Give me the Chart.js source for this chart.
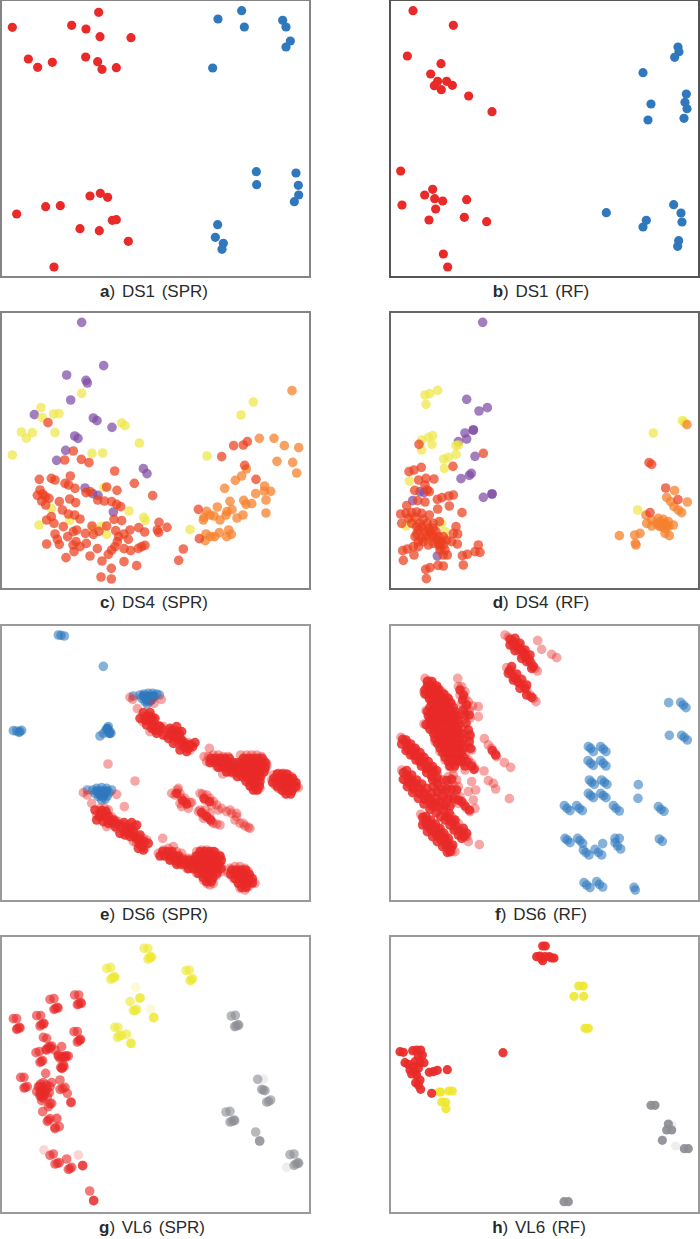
<!DOCTYPE html>
<html>
<head>
<meta charset="utf-8">
<title>Scatter panels</title>
<script src="https://cdn.jsdelivr.net/npm/chart.js@4/dist/chart.umd.min.js"></script>
<style>
    html, body { margin: 0; padding: 0; background: #fff; }
    body { position: relative; width: 700px; height: 1239px; overflow: hidden; }
    canvas { position: absolute; border-style: solid; border-width: 2px; }
    .caption {
        position: absolute; width: 320px; text-align: center; color: #2a2a2a;
        font-family: "Liberation Sans", Arial, sans-serif; font-size: 17px; line-height: 20px; word-spacing: 2px;
    }
</style>
</head>
<body>
<script>
// Values, in units of the panel's own window
const a_red = [[296,37],[37,82],[215,76],[258,87],[300,110],[393,113],[85,177],[113,202],[157,187],[257,171],[293,185],[306,208],[349,203],[270,588],[301,580],[323,592],[137,620],[181,617],[50,642],[337,661],[349,659],[240,686],[298,692],[385,724],[162,801]];
const a_blue = [[725,32],[654,57],[733,81],[848,61],[858,81],[871,123],[858,141],[638,204],[769,515],[770,554],[888,519],[895,556],[896,585],[883,605],[653,674],[646,712],[670,730],[666,748]];

const b_red = [[189,32],[310,76],[172,168],[273,191],[242,222],[263,244],[290,244],[253,257],[307,256],[274,269],[356,288],[426,335],[152,513],[248,568],[224,585],[254,596],[278,603],[350,599],[156,615],[257,627],[237,660],[343,652],[410,665],[280,762],[293,801]];
const b_blue = [[984,141],[987,155],[974,172],[879,218],[1009,282],[1005,307],[903,312],[1011,326],[1002,355],[894,360],[971,614],[769,638],[993,639],[996,666],[889,661],[879,681],[986,722],[983,739]];

const c_red = [[144,338],[220,423],[194,450],[244,448],[267,458],[344,483],[403,520],[118,508],[154,505],[165,510],[211,498],[195,520],[206,525],[225,535],[320,531],[351,541],[458,557],[120,540],[112,556],[128,552],[136,560],[147,565],[125,573],[137,585],[178,575],[209,567],[227,578],[258,548],[270,545],[293,570],[313,573],[335,575],[350,583],[362,590],[187,600],[205,612],[224,615],[240,627],[154,620],[140,630],[162,640],[190,650],[230,660],[203,680],[220,665],[165,672],[172,688],[140,702],[178,703],[228,695],[219,705],[222,725],[240,710],[259,700],[198,743],[270,738],[292,716],[256,670],[280,673],[276,648],[297,664],[320,648],[342,628],[365,632],[347,662],[372,672],[390,660],[416,653],[434,666],[477,637],[472,660],[476,667],[501,652],[356,680],[385,688],[352,695],[345,710],[335,720],[325,733],[372,716],[392,722],[415,715],[425,710],[435,706],[306,753],[372,755],[410,767],[334,775],[303,801],[334,807],[550,717],[536,751],[598,686],[595,598],[665,440],[701,407],[730,405],[742,395],[734,466],[768,508]];
const c_orange = [[876,242],[778,385],[822,385],[853,407],[896,413],[831,454],[878,457],[890,489],[739,477],[725,498],[706,511],[674,535],[794,528],[793,543],[812,544],[767,551],[690,574],[731,571],[755,581],[738,583],[798,570],[798,609],[652,591],[696,599],[681,605],[678,615],[729,615],[711,624],[620,604],[612,622],[630,615],[642,618],[660,630],[610,630],[618,672],[632,680],[616,692],[644,680],[658,668],[686,660],[694,673],[680,680]];
const c_yellow = [[245,250],[123,293],[127,323],[161,312],[177,311],[64,366],[97,368],[79,384],[165,368],[37,435],[365,339],[375,347],[418,399],[276,430],[308,429],[760,276],[723,315],[621,438],[570,659],[387,603],[431,622],[436,631],[154,596],[209,631],[117,645],[280,657],[305,648],[320,673],[312,533]];
const c_purple = [[245,37],[311,167],[200,195],[258,211],[262,219],[212,270],[103,314],[280,324],[291,332],[336,352],[224,378],[234,385],[197,421],[170,451],[430,476],[441,491],[255,534],[278,551],[294,556],[340,606]];

const d_red = [[207,403],[400,430],[214,472],[309,469],[177,485],[192,480],[206,510],[228,505],[252,507],[225,525],[232,540],[194,541],[238,545],[262,568],[276,563],[296,558],[310,555],[203,572],[225,576],[170,587],[263,597],[298,588],[336,608],[152,612],[168,610],[185,608],[200,606],[215,610],[238,615],[155,640],[185,640],[210,640],[232,640],[250,640],[268,635],[205,660],[225,665],[240,665],[258,665],[318,650],[310,670],[323,672],[195,680],[215,685],[240,680],[260,690],[275,695],[290,690],[305,695],[322,702],[190,710],[205,710],[235,705],[270,710],[158,722],[172,717],[192,735],[160,751],[280,735],[292,735],[270,720],[385,705],[375,725],[390,727],[352,733],[337,737],[340,765],[227,778],[240,773],[264,766],[280,768],[229,806],[897,458],[905,463],[900,608],[947,534],[984,569],[175,625],[195,622],[220,628],[200,650],[215,652],[235,655],[250,655],[200,672],[228,678],[250,680],[265,680],[280,680],[250,700],[265,702],[280,705],[285,720],[205,695],[220,695]];
const d_orange = [[1011,344],[974,542],[950,562],[962,575],[1012,576],[972,590],[985,600],[995,608],[888,615],[890,640],[905,630],[905,648],[925,625],[940,628],[955,635],[970,645],[930,650],[945,655],[945,670],[958,677],[808,677],[854,675],[870,670],[856,700],[858,705],[935,640],[920,640],[950,645],[930,635],[945,640],[938,650],[955,650],[925,645]];
const d_yellow = [[263,241],[239,251],[225,255],[228,283],[215,390],[235,382],[248,377],[246,403],[215,420],[318,407],[325,405],[318,433],[295,442],[281,447],[283,475],[178,513],[168,648],[185,632],[275,640],[285,665],[240,680],[997,332],[1003,337],[910,369],[863,600]];
const d_purple = [[398,37],[350,268],[412,293],[387,303],[345,369],[370,360],[370,360],[350,387],[325,395],[375,439],[364,490],[358,496],[333,506],[426,552],[426,552],[400,562],[188,572],[210,545],[222,548],[262,738]];

const e_red = [[390,232],[398,238],[412,266],[484,238],[462,250],[430,290],[445,285],[455,290],[440,300],[428,305],[450,305],[462,315],[475,318],[490,320],[470,330],[450,335],[480,335],[510,335],[525,330],[535,335],[515,345],[530,350],[500,348],[540,355],[525,362],[550,365],[565,368],[575,372],[545,380],[560,385],[570,390],[535,372],
    [628,385],[612,410],[625,410],[640,405],[655,405],[670,410],[685,410],[620,425],[635,425],[650,425],[665,425],[680,425],[695,430],[650,440],[665,440],[680,440],[695,445],[710,445],[668,462],[685,455],[700,460],[715,460],[722,405],[740,405],[755,405],[770,405],[785,410],[730,420],[745,420],[760,420],[775,420],[790,420],[800,430],[725,435],[740,435],[755,435],[770,435],[785,435],[800,440],[720,450],[735,450],[750,450],[765,450],[780,450],[795,450],[735,465],[750,465],[765,465],[780,465],[745,480],[760,480],[775,480],[752,495],[768,510],[780,505],
    [820,465],[835,460],[850,460],[865,465],[875,470],[815,480],[830,480],[845,480],[860,480],[875,480],[885,490],[825,495],[840,495],[855,495],[870,495],[885,500],[895,503],[845,510],[860,510],[875,515],[835,505],
    [324,432],[405,483],[250,518],[262,525],[350,523],[373,560],[275,550],[488,655],
    [300,565],[315,565],[325,570],[290,585],[305,585],[320,585],[335,590],[345,600],[355,605],[335,610],[320,620],[350,625],[375,615],[390,615],[405,620],[370,630],[385,635],[400,640],[415,650],[430,655],[440,660],[410,668],[425,672],[435,685],[400,665],
    [475,700],[490,690],[505,685],[520,680],[530,695],[545,700],[490,705],[505,705],[520,705],[535,715],[550,715],[565,715],[510,720],[525,725],[540,730],[555,730],[570,730],[585,730],[590,695],[605,690],[620,690],[635,695],[650,700],[660,710],[585,710],[600,705],[615,705],[630,710],[645,715],[660,725],[600,720],[615,720],[630,725],[645,730],[665,740],[560,745],[575,745],[590,745],[605,740],[620,740],[635,745],[650,745],[665,755],[590,760],[605,760],[620,760],[635,760],[650,765],[610,780],[625,780],[640,775],[630,795],[620,790],[640,790],
    [690,745],[705,740],[720,740],[735,745],[745,755],[685,760],[700,755],[715,755],[730,760],[745,770],[755,785],[765,790],[700,775],[715,775],[730,775],[745,785],[715,790],[730,795],[745,800],[720,805],[735,810],
    [532,510],[525,525],[540,520],[545,535],[555,545],[570,548],[545,560],[565,565],[608,522],[620,525],[630,535],[640,545],[650,555],[665,565],[680,575],[695,580],[710,580],[600,570],[615,570],[630,580],[610,585],[625,595],[635,605],[650,612],[705,600],[720,610],[735,618],[745,622],
    [515,520],[535,505],[555,535],[575,548],[540,550],[600,520],[615,540],[635,555],[655,570],[595,575],[610,595],[640,610],[660,615],[690,570],[710,590],[730,610],[750,625]];
const e_redCore = [[440,290],[452,292],[435,300],[447,302],[458,300],[460,318],[472,322],[485,325],[478,318],[465,330],[515,332],[528,335],[538,342],[522,345],[510,342],[532,355],[520,350],[545,368],[558,372],[570,375],[552,380],[565,385],[545,360],
    [420,295],[430,278],[450,278],[465,295],[440,315],[455,325],[470,340],[490,345],[510,325],[530,320],[545,335],[505,355],[520,370],[540,390],[560,395],[578,380],[585,368],
    [632,415],[646,415],[660,415],[674,415],[688,415],[730,415],[744,415],[758,415],[772,415],[786,415],
    [630,428],[644,428],[658,428],[672,428],[686,428],[700,428],[714,428],[728,428],[742,428],[756,428],[770,428],[784,428],[796,428],
    [655,442],[669,442],[683,442],[697,442],[711,442],[725,442],[739,442],[753,442],[767,442],[781,442],[795,442],
    [680,456],[694,456],[708,456],[722,456],[736,456],[750,456],[764,456],[778,456],[792,456],
    [712,470],[726,470],[740,470],[754,470],[768,470],[782,470],[738,484],[752,484],[766,484],[780,484],[750,498],[764,498],[778,498],[760,510],[772,510],
    [832,462],[846,462],[860,462],[822,475],[836,475],[850,475],[864,475],[878,475],[818,488],[832,488],[846,488],[860,488],[874,488],[888,488],[832,500],[846,500],[860,500],[874,500],[888,500],[848,512],[862,512],[876,512],[858,522],[872,522],
    [305,572],[318,575],[298,590],[312,590],[326,590],[340,600],[350,610],[330,602],[380,622],[393,625],[375,635],[388,640],[400,632],[420,660],[432,665],[418,672],[428,680],[408,655],
    [285,570],[300,580],[290,600],[310,605],[325,610],[345,620],[360,640],[375,645],[390,650],[405,650],[420,645],[445,670],[415,685],[430,690],[360,615],[372,608],[395,608],[410,615],
    [488,695],[502,695],[516,695],[600,695],[614,695],[628,695],[642,695],[480,708],[494,708],[508,708],[522,708],[536,708],[590,708],[604,708],[618,708],[632,708],[646,708],[660,708],
    [510,720],[524,720],[538,720],[552,720],[566,720],[580,720],[594,720],[608,720],[622,720],[636,720],[650,720],[664,720],
    [530,733],[544,733],[558,733],[572,733],[586,733],[600,733],[614,733],[628,733],[642,733],[656,733],
    [565,746],[579,746],[593,746],[607,746],[621,746],[635,746],[649,746],[663,746],[595,760],[609,760],[623,760],[637,760],[651,760],[610,773],[624,773],[638,773],[620,785],[634,785],
    [695,750],[709,750],[723,750],[737,750],[692,763],[706,763],[720,763],[734,763],[748,763],[705,776],[719,776],[733,776],[747,776],[757,776],[715,789],[729,789],[743,789],[757,789],[725,802],[739,802],
    [530,520],[548,542],[560,552],[612,535],[628,545],[605,578],[620,590],[632,600]];
const e_blue = [[175,45],[183,46],[193,48],[310,139],[400,228],[420,225],[432,222],[445,220],[458,220],[470,222],[478,225],[425,235],[438,235],[450,235],[462,232],[435,245],[448,245],[442,252],[455,240],[40,332],[50,333],[60,335],[65,331],[57,337],[325,320],[322,328],[330,335],[310,340],[300,348],[333,340],[318,330],[262,510],[278,510],[290,505],[305,503],[320,505],[335,510],[285,520],[300,520],[315,520],[328,518],[295,530],[310,530],[322,528],[305,540],[315,538]];
const e_blueCore = [[430,228],[445,228],[460,228],[440,240],[452,240],[290,513],[305,513],[320,513],[300,525],[312,525],[322,325],[328,340]];

const f_red = [[465,45],[475,52],[485,60],[495,68],[505,75],[515,85],[490,80],[505,92],[520,100],[530,105],[515,105],[535,115],[545,130],[555,145],[562,153],[563,62],[575,88],[605,103],[620,113],
    [470,143],[482,150],[490,165],[500,180],[510,190],[520,195],[530,210],[540,225],[550,235],[558,245],
    [225,175],[235,182],[245,190],[255,200],[265,205],[275,215],[285,225],[295,235],[305,250],[222,215],[232,225],[245,225],[258,225],[270,235],[282,245],[240,240],[252,250],[265,255],[280,262],[292,270],[305,275],[315,285],[228,272],[240,285],[255,285],[270,290],[285,295],[300,295],[222,312],[235,320],[250,315],[265,315],[280,320],[295,315],[310,315],[320,325],[330,330],[250,340],[265,345],[280,345],[295,345],[310,345],[325,350],[255,365],[270,370],[285,370],[300,370],[315,370],[330,375],[270,395],[285,395],[300,395],[315,395],[330,400],[345,405],[285,420],[300,420],[315,420],[330,425],[298,440],[310,445],[340,425],[355,420],
    [323,175],[325,200],[335,200],[345,215],[330,225],[345,235],[355,245],[335,250],[345,265],[358,270],[330,285],[345,295],[360,295],[340,320],[350,340],[360,350],[345,360],[355,380],[365,390],[345,385],
    [368,258],[385,260],[385,290],[403,356],[415,375],[425,385],[435,400],[440,410],[463,428],[482,442],[402,453],[415,482],[430,490],[437,507],[478,536],[365,485],[355,515],[377,510],[370,540],[375,565],[355,665],[388,674],[375,445],[365,430],[345,450],
    [153,352],[165,365],[178,378],[190,385],[200,395],[215,410],[225,425],[240,440],[250,450],[262,465],[275,480],[170,380],[185,395],[200,410],[215,425],[230,445],[245,465],
    [155,450],[170,465],[185,480],[195,490],[210,505],[225,520],[240,535],[255,550],[165,480],[180,495],[195,510],[215,525],[235,545],[250,560],[265,565],
    [280,480],[295,470],[310,465],[320,480],[265,495],[280,500],[295,495],[310,495],[325,500],[270,520],[285,520],[300,525],[315,525],[330,530],[275,550],[290,545],[305,550],[340,550],[350,565],[360,575],[325,550],
    [275,560],[285,580],[295,600],[310,600],[325,610],[315,625],[335,630],[345,640],[350,650],[305,590],
    [212,583],[225,595],[235,605],[250,615],[265,625],[275,640],[285,650],[295,665],[305,680],[315,695],[220,605],[235,620],[250,635],[265,650],[280,665],[295,685],[305,695]];
const f_redCore = [[232,185],[246,185],[232,198],[246,198],[260,198],[225,210],[239,210],[253,210],[267,210],[225,222],[239,222],[253,222],[267,222],[281,222],
    [238,235],[252,235],[266,235],[280,235],[294,235],[245,248],[259,248],[273,248],[287,248],[301,248],[240,262],[254,262],[268,262],[282,262],[296,262],[310,262],
    [232,275],[246,275],[260,275],[274,275],[288,275],[302,275],[316,275],[235,288],[249,288],[263,288],[277,288],[291,288],[305,288],[319,288],
    [240,300],[254,300],[268,300],[282,300],[296,300],[310,300],[324,300],[228,314],[242,314],[256,314],[270,314],[284,314],[298,314],[312,314],[326,314],
    [240,328],[254,328],[268,328],[282,328],[296,328],[310,328],[324,328],[252,342],[266,342],[280,342],[294,342],[308,342],[322,342],[336,342],
    [255,356],[269,356],[283,356],[297,356],[311,356],[325,356],[339,356],[262,370],[276,370],[290,370],[304,370],[318,370],[332,370],
    [270,384],[284,384],[298,384],[312,384],[326,384],[340,384],[278,398],[292,398],[306,398],[320,398],[334,398],[285,412],[299,412],[313,412],[327,412],[341,412],
    [295,425],[309,425],[323,425],[337,425],[351,425],[300,438],[314,438],[345,438],[365,438],
    [330,210],[340,225],[338,240],[350,255],[340,270],[345,285],[358,285],[348,310],[355,330],[360,345],[358,365],[362,385],
    [480,58],[490,70],[500,78],[510,88],[520,98],[528,112],[540,125],[550,140],[478,152],[492,172],[505,188],[525,205],[545,232],[427,392],[437,405],[372,448],
    [495,55],[510,70],[525,90],[540,105],[480,75],[495,92],[515,115],[530,125],[545,145],[485,140],[500,162],[515,178],[530,195],[475,160],[490,180],[510,205],[530,225],
    [158,358],[170,372],[183,385],[195,398],[208,412],[222,428],[235,445],[250,458],[262,475],[175,388],[192,405],[210,425],[228,445],[245,470],
    [168,360],[182,372],[196,385],[210,398],[222,412],[235,425],[248,440],[260,452],[155,372],[168,392],[182,405],[198,420],[214,438],[230,458],[248,480],[262,490],
    [160,458],[175,472],[190,488],[205,502],[220,518],[235,532],[250,548],[175,488],[190,505],[208,520],[225,538],[245,555],[262,558],
    [170,452],[185,465],[200,480],[215,492],[230,505],[245,520],[258,535],[270,545],[160,478],[172,500],[188,518],[205,535],[222,552],[240,568],[258,578],[272,590],[250,500],[262,515],
    [290,482],[305,478],[275,508],[290,508],[305,508],[320,510],[280,530],[295,535],[310,535],[325,540],[285,555],[300,558],[345,558],[358,570],[335,545],
    [290,590],[305,605],[318,618],[330,635],[342,650],[280,570],[298,580],[315,600],[285,600],[300,615],[312,630],[325,645],[335,655],[340,625],[350,640],
    [218,592],[230,602],[245,615],[258,628],[270,640],[282,655],[292,670],[302,685],[228,612],[242,628],[258,642],[272,658],[288,678],[300,695],
    [228,590],[242,600],[256,612],[270,625],[282,640],[295,655],[308,675],[218,615],[232,635],[248,650],[262,665],[278,680],[292,697]];
const f_blue = [[956,248],[992,247],[1000,255],[1008,263],[958,346],[995,346],[1003,352],[1012,360],[715,380],[722,385],[730,395],[752,380],[760,387],[768,395],[714,422],[722,430],[730,436],[752,422],[760,430],[768,438],[718,480],[725,487],[733,493],[755,480],[763,487],[771,493],[715,520],[722,527],[730,533],[752,520],[760,527],[768,533],[865,494],[864,535],[643,557],[651,565],[660,572],[680,557],[688,565],[697,572],[790,557],[798,565],[808,573],[925,560],[933,568],[942,574],[645,655],[652,660],[660,668],[683,655],[690,662],[698,670],[795,655],[808,655],[795,668],[803,678],[812,687],[928,657],[937,664],[758,671],[700,690],[708,698],[717,705],[735,688],[745,697],[755,705],[702,788],[710,795],[720,803],[740,785],[748,793],[758,801],[852,802],[856,810]];

const g_red = [[40,266],[50,266],[50,298],[58,292],[52,296],[60,294],[110,257],[122,257],[120,288],[130,282],[124,284],[132,280],[150,208],[162,206],[162,238],[172,232],[166,236],[174,234],[224,195],[236,195],[232,224],[242,218],[236,222],[244,220],[222,305],[232,305],[232,336],[240,330],[236,332],[242,328],
    [130,322],[140,325],[145,352],[155,348],[150,355],[138,358],[108,368],[118,365],[120,397],[128,392],[124,394],[185,350],[175,378],[190,380],[200,378],[185,382],[195,382],[182,412],[192,410],[187,414],[62,442],[72,442],[72,474],[82,470],[76,472],
    [137,430],[130,458],[122,462],[115,470],[128,472],[140,465],[155,458],[110,485],[122,485],[135,485],[148,488],[120,498],[130,505],[125,512],[150,522],[145,530],[155,520],[180,450],[188,476],[195,472],[180,478],[202,490],[213,516],[213,518],[128,545],[145,570],[150,566],[142,574],[170,565],[165,596],[178,590],[165,592],
    [160,672],[150,676],[165,702],[178,698],[172,700],[200,687],[205,718],[215,712],[210,716],[248,707],[248,707],[269,783],[281,812],[281,812],
    [118,470],[128,480],[140,478],[120,490],[132,495],[142,500],[125,500],[150,470],[140,360],[150,350],[165,360],[175,375],[195,378],[205,378],[180,385],[190,405],[185,415]];
const g_redFaint = [[235,675],[132,660],[172,566]];
const g_yellow = [[320,115],[332,112],[332,148],[342,140],[338,144],[345,142],[432,55],[444,55],[444,88],[452,80],[448,84],[455,82],[558,122],[568,120],[570,152],[578,146],[574,150],[420,204],[420,204],[390,215],[400,242],[410,238],[405,242],[461,263],[461,263],[344,292],[354,292],[352,322],[364,316],[358,318],[380,312],[393,340],[393,340]];
const g_yellowFaint = [[407,172],[452,237]];
const g_gray = [[694,258],[706,256],[704,290],[714,284],[708,288],[716,286],[773,448],[785,478],[795,482],[790,480],[800,516],[812,510],[806,514],[678,546],[690,544],[690,576],[702,570],[696,574],[704,572],[767,606],[779,633],[779,633],[870,674],[882,672],[882,706],[894,698],[888,702],[896,700]];
const g_grayFaint = [[790,447],[860,712]];

const h_red = [[578,48],[586,48],[560,80],[575,85],[585,80],[578,92],[570,78],[598,80],[612,84],[605,84],[150,365],[160,367],[188,362],[200,360],[212,360],[217,375],[205,378],[222,398],[210,398],[195,395],[165,398],[175,403],[190,410],[180,420],[195,425],[205,415],[185,432],[200,435],[238,427],[250,425],[262,421],[292,419],[197,458],[210,450],[205,465],[212,478],[245,490],[459,368]];
const h_yellow = [[686,168],[700,168],[672,199],[701,199],[705,295],[715,295],[268,486],[272,486],[297,483],[307,483],[275,516],[287,517],[288,536]];
const h_gray = [[903,526],[915,526],[955,582],[950,600],[965,600],[937,631],[1003,656],[1015,656],[642,815],[655,815]];
const h_grayFaint = [[977,648],[965,585]];

const captions = [['a', ') DS1 (SPR)'], ['b', ') DS1 (RF)'], ['c', ') DS4 (SPR)'], ['d', ') DS4 (RF)'], ['e', ') DS6 (SPR)'], ['f', ') DS6 (RF)'], ['g', ') VL6 (SPR)'], ['h', ') VL6 (RF)']];

// Цвета
const RED = '#e92a28', BLUE = '#2f78bd';
const C_RED = 'rgba(235,62,30,0.72)', C_ORANGE = 'rgba(246,130,45,0.75)', C_YELLOW = 'rgba(238,232,70,0.72)', C_PURPLE = 'rgba(128,76,165,0.72)';
const SOFT_RED = 'rgba(233,42,40,0.42)', CORE_RED = 'rgba(233,42,40,0.85)', SOFT_BLUE = 'rgba(47,120,189,0.58)', CORE_BLUE = 'rgba(47,120,189,0.85)';
const panels = [
    { left: 0, top: -1, h: 275, r: 4.6, xr: [6, 927], yr: [3, 828], border: '#858585', sets: [[a_red, RED], [a_blue, BLUE]] },
    { left: 389, top: -1, h: 275, r: 4.6, xr: [123, 1044], yr: [3, 828], border: '#555', sets: [[b_red, RED], [b_blue, BLUE]] },
    { left: 0, top: 311, h: 275, r: 4.8, xr: [6, 927], yr: [9, 834], border: '#858585', sets: [[c_red, C_RED], [c_orange, C_ORANGE], [c_yellow, C_YELLOW], [c_purple, C_PURPLE]] },
    { left: 389, top: 311, h: 275, r: 4.8, xr: [123, 1044], yr: [9, 834], border: '#666', sets: [[d_red, C_RED], [d_orange, C_ORANGE], [d_yellow, C_YELLOW], [d_purple, C_PURPLE]] },
    { left: 0, top: 624, h: 274, r: 4.8, xr: [6, 927], yr: [18, 840], border: '#9a9a9a', sets: [[e_red, SOFT_RED], [e_redCore, CORE_RED], [e_blue, SOFT_BLUE], [e_blueCore, CORE_BLUE]] },
    { left: 389, top: 624, h: 274, r: 4.8, xr: [123, 1044], yr: [18, 840], border: '#9a9a9a', sets: [[f_red, SOFT_RED], [f_redCore, CORE_RED], [f_blue, SOFT_BLUE]] },
    { left: 0, top: 935, h: 275, r: 4.8, xr: [6, 927], yr: [21, 846], border: '#9a9a9a', sets: [
        [g_redFaint, 'rgba(233,42,40,0.2)'], [g_yellowFaint, 'rgba(238,232,50,0.2)'], [g_grayFaint, 'rgba(140,142,148,0.15)'],
        [g_red, 'rgba(233,42,40,0.62)'], [g_yellow, 'rgba(238,232,50,0.62)'], [g_gray, 'rgba(140,142,148,0.62)']] },
    { left: 389, top: 935, h: 275, r: 4.6, xr: [123, 1044], yr: [21, 846], border: '#9a9a9a', sets: [
        [h_grayFaint, 'rgba(140,142,148,0.15)'], [h_red, 'rgba(233,42,40,0.92)'], [h_yellow, 'rgba(238,232,50,0.9)'], [h_gray, 'rgba(140,142,148,0.92)']] }
];
const captionCenters = [154, 541, 154, 541, 154, 541, 152, 539];
const captionTops = [282, 282, 593, 593, 905, 905, 1218, 1218];

function toPoints(list) {
    return list.map(p => ({ x: p[0], y: p[1] }));
}

function drawPanel(panel, index) {
    const canvas = document.createElement('canvas');
    canvas.width = 307;
    canvas.height = panel.h;
    canvas.style.boxSizing = 'content-box';
    canvas.style.left = panel.left + 'px';
    canvas.style.top = panel.top + 'px';
    canvas.style.borderColor = panel.border;
    document.body.appendChild(canvas);

    new Chart(canvas.getContext('2d'), {
        type: 'scatter',
        data: {
            datasets: panel.sets.map(set => ({
                data: toPoints(set[0]),
                backgroundColor: set[1],
                borderWidth: 0,
                pointRadius: panel.r,
                clip: false
            }))
        },
        options: {
            responsive: false,
            animation: false,
            devicePixelRatio: 1,
            layout: { autoPadding: false, padding: 0 },
            plugins: { legend: { display: false }, tooltip: { enabled: false } },
            scales: {
                x: { type: 'linear', display: false, min: panel.xr[0], max: panel.xr[1] },
                y: { type: 'linear', display: false, reverse: true, min: panel.yr[0], max: panel.yr[1] }
            }
        }
    });

    const cap = document.createElement('div');
    cap.className = 'caption';
    cap.style.left = (captionCenters[index] - 160) + 'px';
    cap.style.top = captionTops[index] + 'px';
    const bold = document.createElement('b');
    bold.textContent = captions[index][0];
    cap.appendChild(bold);
    cap.appendChild(document.createTextNode(captions[index][1]));
    document.body.appendChild(cap);
}

panels.forEach(drawPanel);
</script>
</body>
</html>
